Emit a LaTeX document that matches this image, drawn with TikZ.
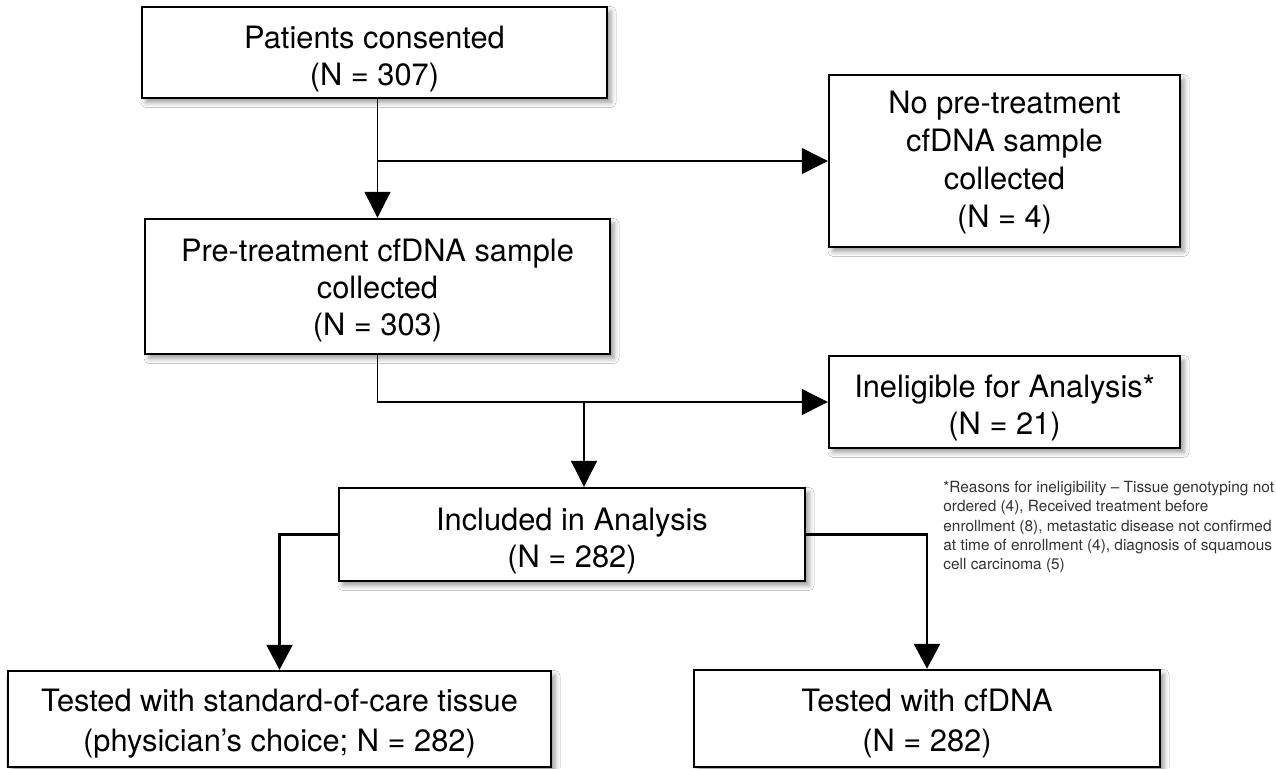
\documentclass[tikz,border=0pt]{standalone}
\usepackage{fontspec}
\setmainfont{TeX Gyre Heros}
\usetikzlibrary{arrows.meta,shadows.blur}
\begin{document}
\begin{tikzpicture}[x=0.5pt,y=-0.5pt,
  box/.style={draw=black, line width=1.2pt, fill=white, rectangle, inner sep=0pt,
    blur shadow={shadow xshift=2pt, shadow yshift=-2.2pt, shadow blur radius=2.5pt, shadow opacity=40}},
  boxtext/.style={align=center, inner sep=0pt, font=\fontsize{15.4}{18.5}\selectfont},
  thinarrow/.style={line width=0.55pt, -{Triangle[width=13pt,length=13pt]}},
  thickarrow/.style={line width=1.2pt, -{Triangle[width=13pt,length=12.5pt]}},
  note/.style={anchor=north west, inner sep=0pt, align=left, font=\fontsize{7.7}{9.6}\selectfont, text=black!80}
]
\useasboundingbox[fill=white] (0,0) rectangle (1276,768);

\node[box, minimum width=232.5pt, minimum height=45.5pt,
  label={[boxtext, yshift=-3.5pt]center:{Patients consented\\(N = 307)}}] (pat) at (374.5,52.5) {};
\node[box, minimum width=175.5pt, minimum height=86pt,
  label={[boxtext, yshift=-0.8pt, font=\fontsize{15.4}{19}\selectfont]center:{No pre-treatment\\cfDNA sample\\collected\\(N = 4)}}] (nopre) at (1004.5,161) {};
\node[box, minimum width=232.5pt, minimum height=67.5pt,
  label={[boxtext, yshift=-1.8pt]center:{Pre-treatment cfDNA sample\\collected\\(N = 303)}}] (pre) at (377.5,286.5) {};
\node[box, minimum width=175.5pt, minimum height=46pt,
  label={[boxtext, yshift=-3.2pt]center:{Ineligible for Analysis*\\(N = 21)}}] (inel) at (1004.5,402) {};
\node[box, minimum width=233pt, minimum height=46.5pt,
  label={[boxtext, yshift=-3.5pt]center:{Included in Analysis\\(N = 282)}}] (incl) at (572,534.5) {};
\node[box, minimum width=271.5pt, minimum height=48pt,
  label={[boxtext, yshift=-2.5pt, font=\fontsize{15.4}{20}\selectfont]center:{Tested with standard-of-care tissue\\(physician’s choice; N = 282)}}] (tis) at (279.5,719) {};
\node[box, minimum width=233pt, minimum height=48.5pt,
  label={[boxtext, yshift=-2.5pt, font=\fontsize{15.4}{20}\selectfont]center:{Tested with cfDNA\\(N = 282)}}] (cf) at (927,718.5) {};

\node[note] (fn) at (943,481) {*Reasons for ineligibility – Tissue genotyping not\\ordered (4), Received treatment before\\enrollment (8), metastatic disease not confirmed\\at time of enrollment (4), diagnosis of squamous\\cell carcinoma (5)};

\coordinate (b1) at (377.5,161);
\coordinate (b2) at (584,402);
\draw[thinarrow] (pre.north |- pat.south) -- (pre.north);
\draw[thinarrow] (b1) -- (nopre.west);
\draw[thinarrow] (pre.south) |- (inel.west);
\draw[thinarrow] (b2) -- (b2 |- incl.north);
\draw[thickarrow] (incl.west) -| (tis.north);
\draw[thickarrow] (incl.east) -| (cf.north);
\end{tikzpicture}
\end{document}
